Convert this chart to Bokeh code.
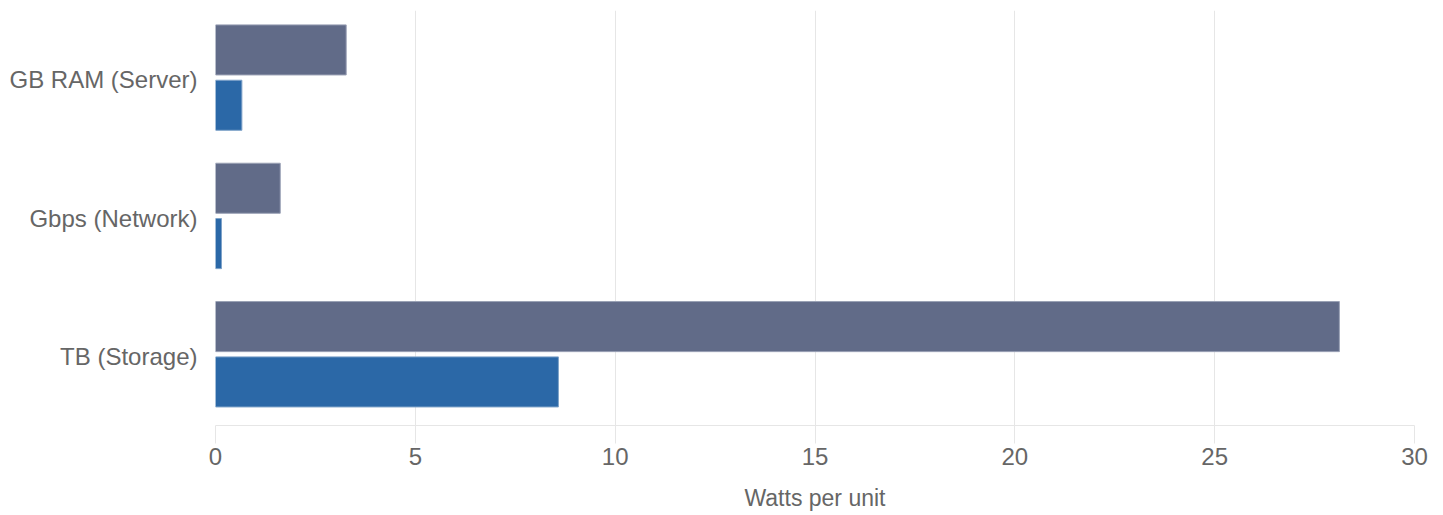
from bokeh.plotting import figure
from bokeh.models import FactorRange, Range1d, ColumnDataSource
from bokeh.transform import dodge
from bokeh.embed import file_html
from bokeh.resources import INLINE

categories = ["GB RAM (Server)", "Gbps (Network)", "TB (Storage)"]
series_a = [3.27, 1.62, 28.12]   # gray-blue series
series_b = [0.66, 0.15, 8.58]    # blue series
x_ticks = [0, 5, 10, 15, 20, 25, 30]

source = ColumnDataSource(data=dict(cat=categories, a=series_a, b=series_b))

p = figure(width=1435, height=514, output_backend="svg", toolbar_location=None,
           y_range=FactorRange(factors=list(reversed(categories))),
           x_range=Range1d(0, 30),
           min_border_left=215, min_border_top=10, min_border_right=21,
           min_border_bottom=89)
p.outline_line_color = None

p.hbar(y=dodge("cat", 0.215, range=p.y_range), right="a", left=0, height=0.362,
       source=source, fill_color="#616b88", line_color="#9aa1b5", line_width=1)
p.hbar(y=dodge("cat", -0.185, range=p.y_range), right="b", left=0, height=0.362,
       source=source, fill_color="#2b68a7", line_color="#7fa3c9", line_width=1)

p.xaxis.ticker = x_ticks
p.xgrid.grid_line_color = "#e6e6e6"
p.ygrid.grid_line_color = None
p.xaxis.axis_line_color = "#e6e6e6"
p.xaxis.major_tick_line_color = "#e6e6e6"
p.xaxis.major_tick_out = 18
p.xaxis.major_tick_in = 0
p.xaxis.minor_tick_line_color = None
p.xaxis.major_label_standoff = 4
p.xaxis.axis_label = "Watts per unit"
p.xaxis.axis_label_standoff = 17
p.xaxis.axis_label_text_font_style = "normal"

for ax in (p.xaxis, p.yaxis):
    ax.major_label_text_font = "Liberation Sans"
    ax.major_label_text_font_size = "24px"
    ax.major_label_text_color = "#666666"
    ax.axis_label_text_font = "Liberation Sans"
    ax.axis_label_text_font_size = "23px"
    ax.axis_label_text_color = "#666666"

p.yaxis.axis_line_color = None
p.yaxis.major_tick_line_color = None
p.yaxis.minor_tick_line_color = None
p.yaxis.major_label_standoff = 12

open("out.html", "w").write(file_html(p, INLINE))
